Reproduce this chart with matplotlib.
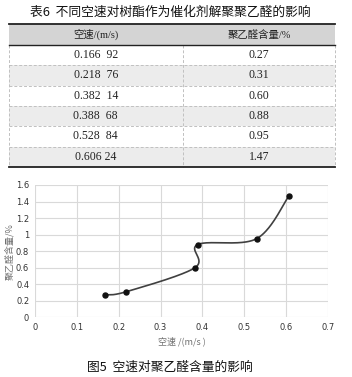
import numpy as np
import matplotlib
matplotlib.use("Agg")
import matplotlib.pyplot as plt
from matplotlib.patches import Rectangle

# ---- data ----
speed = [0.16692, 0.21876, 0.38214, 0.38868, 0.52884, 0.60624]
content = [0.27, 0.31, 0.60, 0.88, 0.95, 1.47]
speed_labels = ["0.166  92", "0.218  76", "0.382  14", "0.388  68", "0.528  84", "0.606 24"]
content_labels = ["0.27", "0.31", "0.60", "0.88", "0.95", "1.47"]
col_headers = ["空速/(m/s)", "聚乙醛含量/%"]
table_title = "表6  不同空速对树酯作为催化剂解聚聚乙醛的影响"
fig_caption = "图5  空速对聚乙醛含量的影响"
x_ticks = [0, 0.1, 0.2, 0.3, 0.4, 0.5, 0.6, 0.7]
x_tick_labels = ["0", "0.1", "0.2", "0.3", "0.4", "0.5", "0.6", "0.7"]
y_ticks = [0, 0.2, 0.4, 0.6, 0.8, 1.0, 1.2, 1.4, 1.6]
y_tick_labels = ["0", "0.2", "0.4", "0.6", "0.8", "1", "1.2", "1.4", "1.6"]

W, H = 352, 377
fig = plt.figure(figsize=(W / 100, H / 100), dpi=100)
fig.patch.set_facecolor("white")

CJK = ["Noto Sans CJK SC", "DejaVu Sans"]
SERIF = ["Liberation Serif", "Noto Sans CJK SC"]

# ---- overlay for table / texts (pixel coordinates) ----
ov = fig.add_axes([0, 0, 1, 1])
ov.set_xlim(0, W)
ov.set_ylim(H, 0)
ov.axis("off")

ov.text(170, 12, table_title, ha="center", va="center", fontsize=9.2, family=CJK, color="#111111")

tx0, tx1, txm = 8.5, 335, 183
top, hdr_bot = 24.3, 45
row_h = 20.3
n = len(speed_labels)
ov.add_patch(Rectangle((tx0, top), tx1 - tx0, hdr_bot - top, facecolor="#d4d4d4", edgecolor="none"))
for i in range(n):
    y0 = hdr_bot + i * row_h
    if i % 2 == 1:
        ov.add_patch(Rectangle((tx0, y0), tx1 - tx0, row_h, facecolor="#ececec", edgecolor="none"))
bottom = hdr_bot + n * row_h
for i in range(1, n):
    y = hdr_bot + i * row_h
    ov.plot([tx0, tx1], [y, y], color="#c0c0c0", lw=0.7, ls=(0, (3, 2)))
for x in [tx0, txm, tx1]:
    ov.plot([x, x], [hdr_bot, bottom], color="#c0c0c0", lw=0.7, ls=(0, (3, 2)))
ov.plot([tx0, tx1], [top, top], color="#222222", lw=1.3)
ov.plot([tx0, tx1], [hdr_bot, hdr_bot], color="#222222", lw=1.0)
ov.plot([tx0, tx1], [bottom, bottom], color="#222222", lw=1.3)

c1, c2 = (tx0 + txm) / 2, (txm + tx1) / 2
ov.text(c1, (top + hdr_bot) / 2, col_headers[0], ha="center", va="center", fontsize=7.5, family=SERIF, color="#222222")
ov.text(c2, (top + hdr_bot) / 2, col_headers[1], ha="center", va="center", fontsize=7.5, family=SERIF, color="#222222")
for i in range(n):
    yc = hdr_bot + (i + 0.5) * row_h
    ov.text(c1, yc, speed_labels[i], ha="center", va="center", fontsize=8.5, family=SERIF, color="#222222")
    ov.text(c2, yc, content_labels[i], ha="center", va="center", fontsize=8.5, family=SERIF, color="#222222")

ov.text(170, 367, fig_caption, ha="center", va="center", fontsize=9.2, family=CJK, color="#111111")

# ---- chart ----
axL, axR, axT, axB = 34.7, 328.3, 185, 317.3
ax = fig.add_axes([axL / W, 1 - axB / H, (axR - axL) / W, (axB - axT) / H])
ax.set_xlim(0, 0.7)
ax.set_ylim(0, 1.6)
for s in ax.spines.values():
    s.set_visible(False)
ax.set_xticks(x_ticks)
ax.set_xticklabels(x_tick_labels)
ax.set_yticks(y_ticks)
ax.set_yticklabels(y_tick_labels)
ax.tick_params(length=0, labelsize=6, labelcolor="#333333", pad=4)
ax.grid(True, color="#d9d9d9", lw=0.8)
ax.set_axisbelow(True)

# smoothed (Excel-like Bezier) curve computed in pixel-scaled space
sx = (axR - axL) / 0.7
sy = (axB - axT) / 1.6
P = np.column_stack([np.array(speed) * sx, np.array(content) * sy])
Pe = np.vstack([P[0], P, P[-1]])
pts = []
t = np.linspace(0, 1, 60)[:, None]
for i in range(len(P) - 1):
    p0, p1 = Pe[i + 1], Pe[i + 2]
    c1p = p0 + (Pe[i + 2] - Pe[i]) / 6
    c2p = p1 - (Pe[i + 3] - Pe[i + 1]) / 6
    seg = (1 - t) ** 3 * p0 + 3 * (1 - t) ** 2 * t * c1p + 3 * (1 - t) * t ** 2 * c2p + t ** 3 * p1
    pts.append(seg)
curve = np.vstack(pts)
ax.plot(curve[:, 0] / sx, curve[:, 1] / sy, color="#404040", lw=1.2, zorder=3)
ax.plot(speed, content, "o", color="#111111", ms=3.6, zorder=4)

ax.set_xlabel("空速 /(m/s )", fontsize=6.5, family=CJK, color="#707070", labelpad=3)
ax.set_ylabel("聚乙醛含量/%", fontsize=6.5, family=CJK, color="#707070", labelpad=1)

fig.savefig("out.png", dpi=100, facecolor="white")
